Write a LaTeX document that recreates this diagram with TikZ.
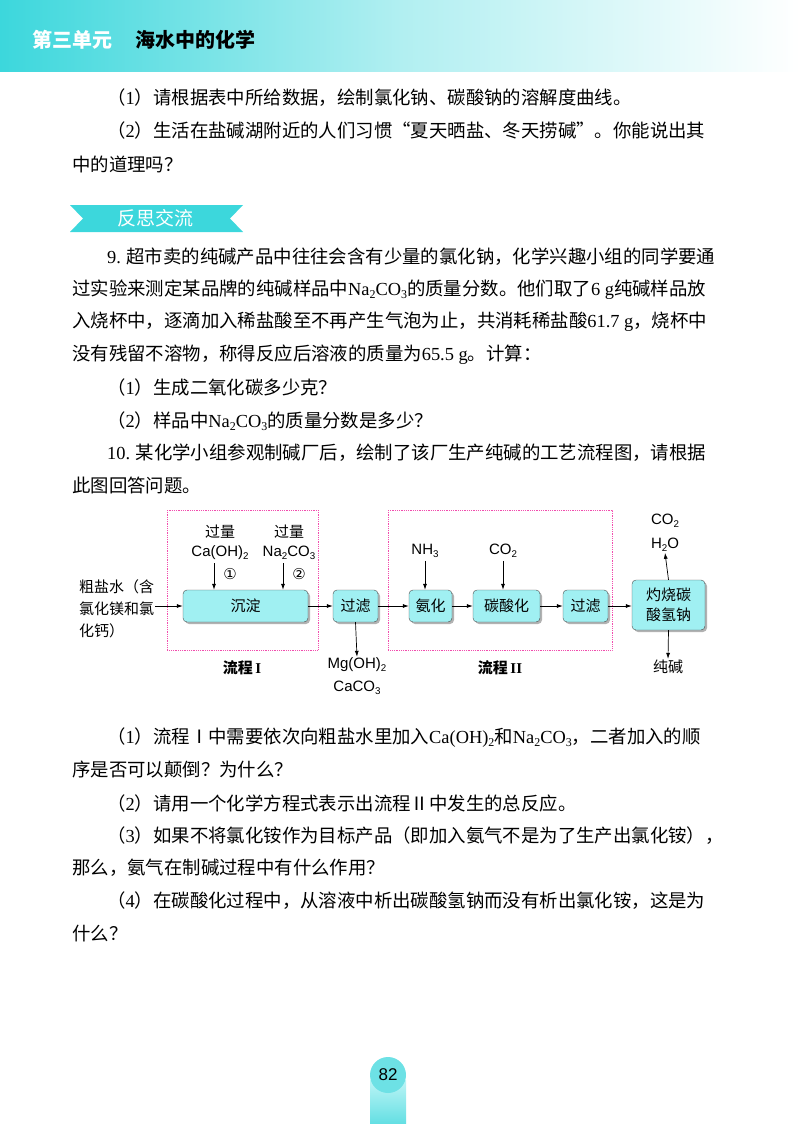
\documentclass[tikz,border=0pt]{standalone}
\usepackage{fontspec}
\setmainfont{Noto Sans CJK SC}
\newfontfamily\tm{Liberation Serif}
\newfontfamily\hv{Liberation Sans}
\newfontfamily\djsans{DejaVu Sans}
\usetikzlibrary{shadows,arrows.meta}
\newcommand{\chsub}[1]{\raisebox{-0.35ex}{\fontsize{0.65em}{1em}\selectfont #1}}
\definecolor{turq}{RGB}{60,215,220}
\definecolor{boxc}{RGB}{160,240,242}
\begin{document}
\begin{tikzpicture}[x=1pt,y=-1pt,
  txt/.style={anchor=west,inner sep=0pt,font=\fontsize{18.4}{20}\selectfont},
  pbox/.style={draw=black!70,fill=boxc,rounded corners=4pt,minimum height=32pt,inner sep=2pt,font=\fontsize{15}{17}\selectfont,drop shadow={shadow xshift=2pt,shadow yshift=-2pt,fill=black!60}},
  dlab/.style={inner sep=1pt,font=\fontsize{15}{18}\selectfont},
  frame/.style={draw=magenta!70,densely dotted,line width=0.8pt},
  arr/.style={-{Latex[length=6pt,width=4pt]},line width=0.7pt}]
\useasboundingbox (0,0) rectangle (800,1124);
% header
\shade[left color=turq,right color=white,middle color=turq!40] (0,0) rectangle (800,72);
\node[anchor=west,inner sep=0,text=white,font=\fontsize{20}{22}\selectfont\bfseries] (h1) at (32,40) {第三单元};
\node[anchor=west,inner sep=0,font=\fontsize{20}{22}\selectfont\bfseries] (h2) at (135,40) {海水中的化学};
% text block 1
\node[txt] (t1) at (107,98) {（{\tm 1}）请根据表中所给数据，绘制氯化钠、碳酸钠的溶解度曲线。};
\node[txt] (t2) at (107,131) {（{\tm 2}）生活在盐碱湖附近的人们习惯“夏天晒盐、冬天捞碱”。你能说出其};
\node[txt] (t3) at (72,164) {中的道理吗？};
% tag
\fill[turq] (70,205) -- (243,205) -- (230,218.5) -- (243,232) -- (70,232) -- (83,218.5) -- cycle;
\node[inner sep=0,text=white,font=\fontsize{19}{20}\selectfont] (tag) at (155,218.5) {反思交流};
% question 9
\node[txt] (q1) at (107,257) {{\tm 9.} 超市卖的纯碱产品中往往会含有少量的氯化钠，化学兴趣小组的同学要通};
\node[txt] (q2) at (72,290) {过实验来测定某品牌的纯碱样品中{\tm Na\chsub{2}CO\chsub{3}}的质量分数。他们取了{\tm 6 g}纯碱样品放};
\node[txt] (q3) at (72,322) {入烧杯中，逐滴加入稀盐酸至不再产生气泡为止，共消耗稀盐酸{\tm 61.7 g}，烧杯中};
\node[txt] (q4) at (72,355) {没有残留不溶物，称得反应后溶液的质量为{\tm 65.5 g}。计算：};
\node[txt] (q5) at (107,388) {（{\tm 1}）生成二氧化碳多少克？};
\node[txt] (q6) at (107,421) {（{\tm 2}）样品中{\tm Na\chsub{2}CO\chsub{3}}的质量分数是多少？};
\node[txt] (q7) at (107,453) {{\tm 10.} 某化学小组参观制碱厂后，绘制了该厂生产纯碱的工艺流程图，请根据};
\node[txt] (q8) at (72,485) {此图回答问题。};
% diagram
\draw[frame] (167,510) rectangle (318,650);
\draw[frame] (388,510) rectangle (612,650);
\node[pbox,minimum width=125pt] (cd) at (245.5,606) {沉淀};
\node[pbox,minimum width=45pt] (gl1) at (355.5,606) {过滤};
\node[pbox,minimum width=43pt] (ah) at (430.5,606) {氨化};
\node[pbox,minimum width=67pt] (ts) at (506.5,606) {碳酸化};
\node[pbox,minimum width=45pt] (gl2) at (585.5,606) {过滤};
\node[pbox,minimum width=73pt,minimum height=50pt,align=center,font=\fontsize{15}{20}\selectfont] (zs) at (668.5,605) {灼烧碳\\酸氢钠};
\node[dlab,anchor=west,align=left,font=\fontsize{15}{22}\selectfont] (raw) at (78,609) {粗盐水（含\\氯化镁和氯\\化钙）};
\node[dlab] (g1) at (220,532) {过量};
\node[dlab] (ca) at (220,553) {\hv Ca(OH)\chsub{2}};
\node[dlab] (g2) at (289,532) {过量};
\node[dlab] (na) at (289,553) {\hv Na\chsub{2}CO\chsub{3}};
\node[dlab,font=\fontsize{15}{15}\djsans] (c1) at (230,574) {①};
\node[dlab,font=\fontsize{15}{15}\djsans] (c2) at (299,574) {②};
\coordinate (a1) at (214,563); \coordinate (a2) at (283,563);
\draw[arr] (a1) -- (a1|-cd.north);
\draw[arr] (a2) -- (a2|-cd.north);
\node[dlab] (nh) at (425,551) {\hv NH\chsub{3}};
\node[dlab] (co) at (503,551) {\hv CO\chsub{2}};
\draw[arr] (nh.south) ++(0,2) -- (nh|-ah.north);
\draw[arr] (co.south) ++(0,2) -- (co|-ts.north);
\node[dlab] (mg) at (357,665) {\hv Mg(OH)\chsub{2}};
\node[dlab] (cc) at (357,688) {\hv CaCO\chsub{3}};
\draw[arr] (gl1.south) -- (mg.north);
\node[dlab] (co2) at (665,521) {\hv CO\chsub{2}};
\node[dlab] (h2o) at (665,545) {\hv H\chsub{2}O};
\draw[arr] (zs.north) -- (h2o.south);
\node[dlab] (cj) at (668,667) {纯碱};
\draw[arr] (zs.south) -- (cj.north);
\node[dlab,font=\fontsize{15}{18}\selectfont\bfseries] (l1) at (242,668) {流程\,{\tm I}};
\node[dlab,font=\fontsize{15}{18}\selectfont\bfseries] (l2) at (500,668) {流程\,{\tm II}};
\coordinate (rin) at (155,606);
\draw[arr] (rin) -- (cd.west);
\draw[arr] (cd.east) -- (gl1.west);
\draw[arr] (gl1.east) -- (ah.west);
\draw[arr] (ah.east) -- (ts.west);
\draw[arr] (ts.east) -- (gl2.west);
\draw[arr] (gl2.east) -- (zs.west|-gl2.east);
% questions after diagram
\node[txt] (r1) at (107,738) {（{\tm 1}）流程Ⅰ中需要依次向粗盐水里加入{\tm Ca(OH)\chsub{2}}和{\tm Na\chsub{2}CO\chsub{3}}，二者加入的顺};
\node[txt] (r2) at (72,770) {序是否可以颠倒？为什么？};
\node[txt] (r3) at (107,803) {（{\tm 2}）请用一个化学方程式表示出流程Ⅱ中发生的总反应。};
\node[txt] (r4) at (107,836) {（{\tm 3}）如果不将氯化铵作为目标产品（即加入氨气不是为了生产出氯化铵），};
\node[txt] (r5) at (72,868) {那么，氨气在制碱过程中有什么作用？};
\node[txt] (r6) at (107,901) {（{\tm 4}）在碳酸化过程中，从溶液中析出碳酸氢钠而没有析出氯化铵，这是为};
\node[txt] (r7) at (72,934) {什么？};
% page number
\shade[top color=boxc!70,bottom color=turq!80] (370,1080) rectangle (406,1124);
\fill[turq!75] (388,1075) circle (18);
\node[inner sep=0,font=\fontsize{17}{19}\hv] (pg) at (388,1075) {82};
\end{tikzpicture}
\end{document}
